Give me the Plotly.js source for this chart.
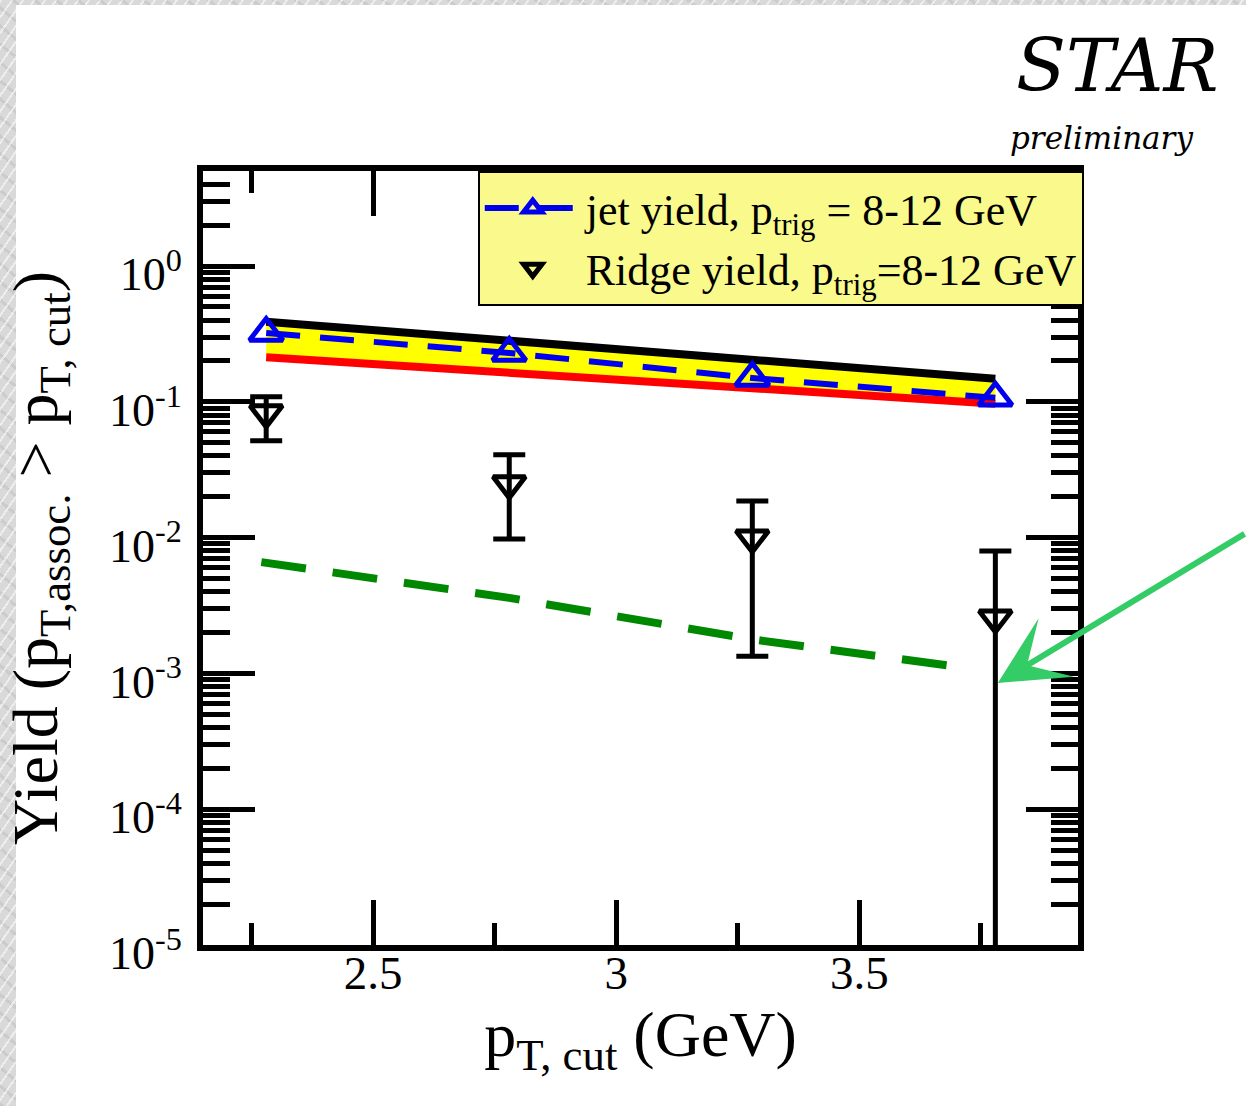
<!DOCTYPE html>
<html>
<head>
<meta charset="utf-8">
<script src="https://cdn.plot.ly/plotly-3.0.1.min.js"></script>
<style>
  html, body { margin:0; padding:0; width:1246px; height:1106px; overflow:hidden; }
  body {
    background-color:#d9d9d9;
    background-image:
      repeating-linear-gradient(125deg, rgba(255,255,255,0.55) 0px, rgba(255,255,255,0.55) 2px, rgba(255,255,255,0) 2px, rgba(255,255,255,0) 9px),
      repeating-linear-gradient(40deg, rgba(190,190,190,0.5) 0px, rgba(190,190,190,0.5) 3px, rgba(255,255,255,0) 3px, rgba(255,255,255,0) 14px);
  }
  #white { position:absolute; left:16px; top:5px; right:0; bottom:0; background:#ffffff; }
  #chart { position:absolute; left:0; top:0; width:1246px; height:1106px; }
</style>
</head>
<body>
<div id="white"></div>
<div id="chart"></div>
<script>
// ---- data ----
const ptCut = [2.28, 2.78, 3.28, 3.78];

const jetYield = [0.321, 0.229, 0.150, 0.107];
const jetBandHigh = [0.389, 0.282, 0.204, 0.148];
const jetBandLow = [0.213, 0.164, 0.126, 0.097];

const ridgeYield = [0.083, 0.0249, 0.00995, 0.00256];
const ridgeHigh = [0.109, 0.0407, 0.0186, 0.00798];
const ridgeLow = [0.0516, 0.00978, 0.00134, 0.0];   // last one extends below the axis

const greenX = [2.27, 2.78, 3.28, 3.72];
const greenY = [0.0066, 0.0036, 0.00178, 0.0011];

const yTickVals = [1e-5, 1e-4, 1e-3, 1e-2, 1e-1, 1];
const yTickText = ['10<sup>-5</sup>', '10<sup>-4</sup>', '10<sup>-3</sup>', '10<sup>-2</sup>', '10<sup>-1</sup>', '10<sup>0</sup>'];
const xTickVals = [2.5, 3, 3.5];
const xTickText = ['2.5', '3', '3.5'];

const jetLabel = 'jet yield, p<sub>trig</sub> = 8-12 GeV';
const ridgeLabel = 'Ridge yield, p<sub>trig</sub>=8-12 GeV';

// ---- traces ----
const serif = 'Liberation Serif, Times New Roman, serif';
const italicSerif = 'DejaVu Serif, Liberation Serif, serif';

const traces = [
  {
    x: greenX, y: greenY, mode: 'lines', showlegend: false, hoverinfo: 'skip',
    line: { color: '#008800', width: 8, dash: '45px,27px' }
  },
  {
    x: ptCut, y: ridgeYield, mode: 'markers', name: ridgeLabel, legendrank: 2,
    marker: { symbol: 'triangle-down-open', size: 28, color: '#000000', line: { width: 5, color: '#000000' } },
    error_y: {
      type: 'data', symmetric: false,
      array: ridgeHigh.map((h, i) => h - ridgeYield[i]),
      arrayminus: ridgeLow.map((l, i) => ridgeYield[i] - l),
      color: '#000000', thickness: 5, width: 16
    }
  },
  {
    x: ptCut, y: jetBandHigh, mode: 'lines', showlegend: false, hoverinfo: 'skip',
    line: { color: '#000000', width: 8 }
  },
  {
    x: ptCut, y: jetBandLow, mode: 'lines', showlegend: false, hoverinfo: 'skip',
    fill: 'tonexty', fillcolor: '#ffff00',
    line: { color: '#ff0000', width: 8 }
  },
  {
    x: ptCut, y: jetYield, mode: 'lines+markers', name: jetLabel, legendrank: 1,
    line: { color: '#0000ee', width: 6, dash: '34px,20px' },
    marker: { symbol: 'triangle-up-open', size: 29, color: '#0000ee', line: { width: 5, color: '#0000ee' } }
  }
];

const layout = {
  width: 1246, height: 1106,
  margin: { l: 203, r: 168, t: 171, b: 161, pad: 0 },
  paper_bgcolor: 'rgba(0,0,0,0)',
  plot_bgcolor: '#ffffff',
  font: { family: serif, color: '#000000' },
  showlegend: true,
  legend: {
    x: 0.314, y: 1, xanchor: 'left', yanchor: 'top',
    bgcolor: '#fafa8c', bordercolor: '#000000', borderwidth: 2,
    font: { family: serif, size: 44, color: '#000000' },
    itemwidth: 96, traceorder: 'normal', tracegroupgap: 0
  },
  xaxis: {
    type: 'linear', range: [2.15, 3.95],
    tickmode: 'array', tickvals: xTickVals, ticktext: xTickText,
    ticks: 'inside', ticklen: 45, tickwidth: 5, tickcolor: '#000000',
    minor: { ticks: 'inside', dtick: 0.25, tick0: 2.25, ticklen: 22, tickwidth: 5, tickcolor: '#000000', showgrid: false },
    showline: true, linewidth: 6, linecolor: '#000000', mirror: 'allticks',
    showgrid: false, zeroline: false,
    tickfont: { family: serif, size: 47, color: '#000000' },
    ticklabelstandoff: -18,
    title: { text: 'p<sub>T, cut</sub> (GeV)', font: { family: serif, size: 64, color: '#000000' }, standoff: 0 }
  },
  yaxis: {
    type: 'log', range: [-5, 0.7],
    tickmode: 'array', tickvals: yTickVals, ticktext: yTickText,
    ticks: 'inside', ticklen: 52, tickwidth: 5, tickcolor: '#000000',
    minor: { ticks: 'inside', dtick: 'D1', ticklen: 27, tickwidth: 5, tickcolor: '#000000', showgrid: false },
    showline: true, linewidth: 6, linecolor: '#000000', mirror: 'allticks',
    showgrid: false, zeroline: false,
    tickfont: { family: serif, size: 46, color: '#000000' },
    ticklabelstandoff: 6,
    ticklabelshift: 8,
    title: { text: 'Yield (p<sub>T,assoc.</sub> &gt; p<sub>T, cut</sub>)', font: { family: serif, size: 64, color: '#000000' }, standoff: 34 }
  },
  annotations: [
    {
      xref: 'paper', yref: 'paper', x: 1.045, y: 1.136, xanchor: 'center', yanchor: 'middle',
      text: 'STAR', showarrow: false,
      font: { family: italicSerif, size: 73, color: '#000000', style: 'italic' }
    },
    {
      xref: 'paper', yref: 'paper', x: 1.027, y: 1.043, xanchor: 'center', yanchor: 'middle',
      text: 'preliminary', showarrow: false,
      font: { family: italicSerif, size: 31, color: '#000000', style: 'italic' }
    },
    {
      xref: 'x', yref: 'y', x: 3.785, y: -3.07, text: '', showarrow: true,
      arrowhead: 3, arrowsize: 1.9, arrowwidth: 6, arrowcolor: '#33cc66',
      ax: 262, ay: -150, standoff: 0
    }
  ]
};

Plotly.newPlot('chart', traces, layout, { displayModeBar: false, staticPlot: true });
</script>
</body>
</html>
